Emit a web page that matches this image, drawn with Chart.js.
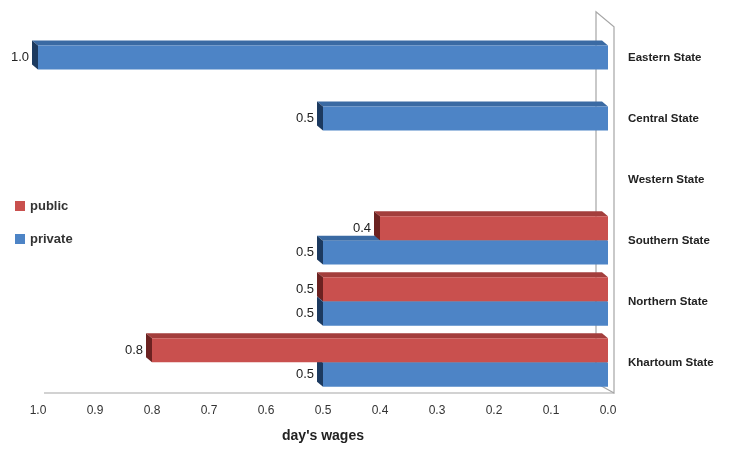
<!DOCTYPE html>
<html>
<head>
<meta charset="utf-8">
<script src="https://cdn.jsdelivr.net/npm/chart.js@4.4.0/dist/chart.umd.min.js"></script>
<style>
  html, body { margin: 0; padding: 0; background: #fff; }
  #wrap { width: 735px; height: 461px; }
</style>
</head>
<body>
<div id="wrap"><canvas id="chart"></canvas></div>
<script>
// dados
const states = ["Eastern State", "Central State", "Western State", "Southern State", "Northern State", "Khartoum State"];
const publicWages = [null, null, null, 0.4, 0.5, 0.8];
const privateWages = [1.0, 0.5, null, 0.5, 0.5, 0.5];
const wageTicks = [1.0, 0.9, 0.8, 0.7, 0.6, 0.5, 0.4, 0.3, 0.2, 0.1, 0.0];

const FONT = "'Liberation Sans', Arial, sans-serif";
const DX = 6, DY = 5;

// faces 3D (topo e lado esquerdo) desenhadas antes das barras
const bar3d = {
  id: "bar3d",
  beforeDatasetsDraw(chart) {
    const ctx = chart.ctx;
    const order = [1, 0];
    order.forEach((di) => {
      const meta = chart.getDatasetMeta(di);
      const ds = chart.data.datasets[di];
      meta.data.forEach((el, i) => {
        if (ds.data[i] == null) return;
        const p = el.getProps(["x", "y", "base", "height"], true);
        const left = Math.min(p.x, p.base), right = Math.max(p.x, p.base);
        const top = p.y - p.height / 2, bottom = p.y + p.height / 2;
        ctx.save();
        ctx.fillStyle = ds.topColor;
        ctx.beginPath();
        ctx.moveTo(left, top);
        ctx.lineTo(right, top);
        ctx.lineTo(right - DX, top - DY);
        ctx.lineTo(left - DX, top - DY);
        ctx.closePath();
        ctx.fill();
        ctx.fillStyle = ds.sideColor;
        ctx.beginPath();
        ctx.moveTo(left, top);
        ctx.lineTo(left, bottom);
        ctx.lineTo(left - DX, bottom - DY);
        ctx.lineTo(left - DX, top - DY);
        ctx.closePath();
        ctx.fill();
        ctx.restore();
      });
    });
  },
  afterDatasetsDraw(chart) {
    const ctx = chart.ctx;
    ctx.save();
    ctx.font = "13px " + FONT;
    ctx.fillStyle = "#222";
    ctx.textAlign = "right";
    ctx.textBaseline = "middle";
    chart.data.datasets.forEach((ds, di) => {
      const meta = chart.getDatasetMeta(di);
      meta.data.forEach((el, i) => {
        if (ds.data[i] == null) return;
        const p = el.getProps(["x", "y"], true);
        ctx.fillText(ds.data[i].toFixed(1), p.x - DX - 3, p.y);
      });
    });
    ctx.restore();
  },
};

// parede do fundo e legenda
const frame = {
  id: "frame",
  beforeDatasetsDraw(chart) {
    const ctx = chart.ctx;
    const a = chart.chartArea;
    const x0 = chart.scales.x.getPixelForValue(0);
    ctx.save();
    ctx.strokeStyle = "#a6a6a6";
    ctx.lineWidth = 1.2;
    ctx.beginPath();
    ctx.moveTo(x0 - 12, a.bottom - 10);
    ctx.lineTo(x0 - 12, a.top - 15);
    ctx.lineTo(x0 + 6, a.top);
    ctx.lineTo(x0 + 6, a.bottom);
    ctx.lineTo(x0 - 12, a.bottom - 10);
    ctx.stroke();
    ctx.beginPath();
    ctx.moveTo(a.left + 6, a.bottom);
    ctx.lineTo(x0 + 6, a.bottom);
    ctx.stroke();
    ctx.restore();
  },
  afterDraw(chart) {
    const ctx = chart.ctx;
    ctx.save();
    ctx.font = "bold 13px " + FONT;
    ctx.textBaseline = "middle";
    const rows = [0, 1];
    rows.forEach((di, k) => {
      const ds = chart.data.datasets[di];
      const y = 206 + k * 33;
      ctx.fillStyle = ds.backgroundColor;
      ctx.fillRect(15, y - 5, 10, 10);
      ctx.fillStyle = "#333";
      ctx.fillText(ds.label, 30, y);
    });
    ctx.restore();
  },
};

new Chart(document.getElementById("chart"), {
  type: "bar",
  data: {
    labels: states,
    datasets: [
      {
        label: "public",
        data: publicWages,
        backgroundColor: "#c9504e",
        topColor: "#a33e3c",
        sideColor: "#6c2221",
        categoryPercentage: 0.8,
        barPercentage: 0.98,
        maxBarThickness: 24,
      },
      {
        label: "private",
        data: privateWages,
        backgroundColor: "#4d84c6",
        topColor: "#3a6aa3",
        sideColor: "#1c3a60",
        categoryPercentage: 0.8,
        barPercentage: 0.98,
        maxBarThickness: 24,
      },
    ],
  },
  options: {
    indexAxis: "y",
    responsive: true,
    maintainAspectRatio: false,
    animation: false,
    skipNull: true,
    layout: { padding: { left: 38, top: 25, right: 0, bottom: 16 } },
    scales: {
      x: {
        reverse: true,
        min: 0,
        max: 1,
        afterBuildTicks(scale) {
          scale.ticks = wageTicks.map((v) => ({ value: v }));
        },
        afterFit(scale) {
          scale.height = 52;
        },
        grid: { display: false, drawTicks: false },
        border: { display: false },
        ticks: {
          padding: 10,
          color: "#333",
          font: { family: FONT, size: 12 },
          callback: (v) => Number(v).toFixed(1),
        },
        title: {
          display: true,
          text: "day's wages",
          color: "#222",
          padding: { top: 2, bottom: 0 },
          font: { family: FONT, size: 14, weight: "bold" },
        },
      },
      y: {
        position: "right",
        afterFit(scale) {
          scale.width = 127;
        },
        grid: { display: false, drawTicks: false },
        border: { display: false },
        ticks: {
          padding: 20,
          color: "#222",
          font: { family: FONT, size: 11.5, weight: "bold" },
        },
      },
    },
    plugins: {
      legend: { display: false },
      tooltip: { enabled: false },
    },
  },
  plugins: [frame, bar3d],
});
</script>
</body>
</html>
